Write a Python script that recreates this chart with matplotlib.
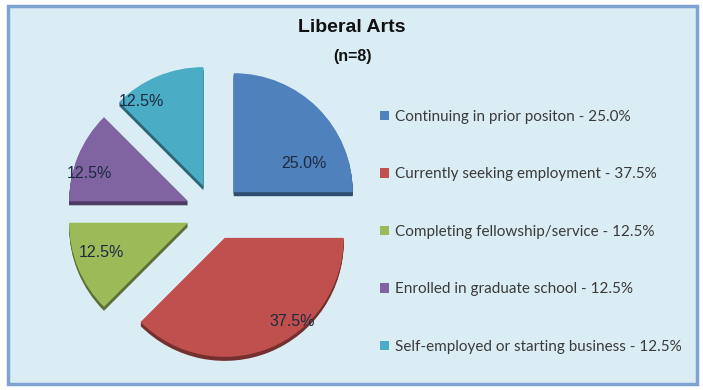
import matplotlib
matplotlib.use("Agg")
import matplotlib.pyplot as plt
from matplotlib.patches import Rectangle
import matplotlib.colors as mcolors
import numpy as np

categories = ["Continuing in prior positon", "Currently seeking employment",
              "Completing fellowship/service", "Enrolled in graduate school",
              "Self-employed or starting business"]
shares = [25.0, 37.5, 12.5, 12.5, 12.5]
colors = ["#4f81bd", "#c0504d", "#9bbb59", "#8064a2", "#4bacc6"]
title = "Liberal Arts"
subtitle = "(n=8)"

# where each percentage label sits (angle in degrees, fraction of radius)
label_angle = [22, -51, -161, 164, 126]
label_frac = [0.64, 0.9, 0.77, 0.86, 0.88]

narrow = ["Liberation Sans", "DejaVu Sans"]


def darker(c, f=0.6):
    r, g, b = mcolors.to_rgb(c)
    return (r * f, g * f, b * f)


fig = plt.figure(figsize=(7.03, 3.9), dpi=100)
fig.patch.set_facecolor("white")
ax = fig.add_axes([0, 0, 1, 1])

ax.add_patch(Rectangle((8, 6), 689, 378, facecolor="#dbedf4",
                       edgecolor="#7ea3d2", linewidth=2.5, zorder=0))

R = 119
explode = [28] * len(shares)   # data units (pixels)
cx, cy = 214, 178
# depth (3D look)
for k in range(1, 5):
    ax.pie(shares, colors=[darker(c) for c in colors], startangle=90,
           counterclock=False, explode=explode, radius=R,
           center=(cx, cy - k), wedgeprops=dict(linewidth=0),
           frame=True)
wedges, _ = ax.pie(
    shares, colors=colors, startangle=90, counterclock=False,
    explode=explode, radius=R, center=(cx, cy),
    wedgeprops=dict(linewidth=0), frame=True)

for w, s, a, f in zip(wedges, shares, label_angle, label_frac):
    x0, y0 = w.center
    t = np.deg2rad(a)
    ax.text(x0 + f * R * np.cos(t), y0 + f * R * np.sin(t), f"{s:.1f}%",
            ha="center", va="center", fontsize=11.5, color="#1e2a40",
            family=narrow)

ax.set_xlim(0, 703)
ax.set_ylim(0, 390)
ax.set_aspect("equal")
ax.axis("off")

ax.text(352, 362, title, ha="center", va="center", fontsize=14,
        fontweight="bold", family=narrow, color="#111111")
ax.text(352, 334, subtitle, ha="center", va="center", fontsize=11.5,
        fontweight="bold", family=narrow, color="#111111")

labels = [f"{c} - {s:.1f}%" for c, s in zip(categories, shares)]
ax.legend(wedges, labels, loc="upper left", bbox_to_anchor=(366 / 703, 1 - 96 / 390),
          frameon=False, labelspacing=2.85, handlelength=0.6,
          handleheight=0.6, handletextpad=0.4,
          prop=dict(family=["Lato", "DejaVu Sans"], size=11),
          labelcolor="#3a3a3a")

fig.savefig("out.png", dpi=100, facecolor="white")
